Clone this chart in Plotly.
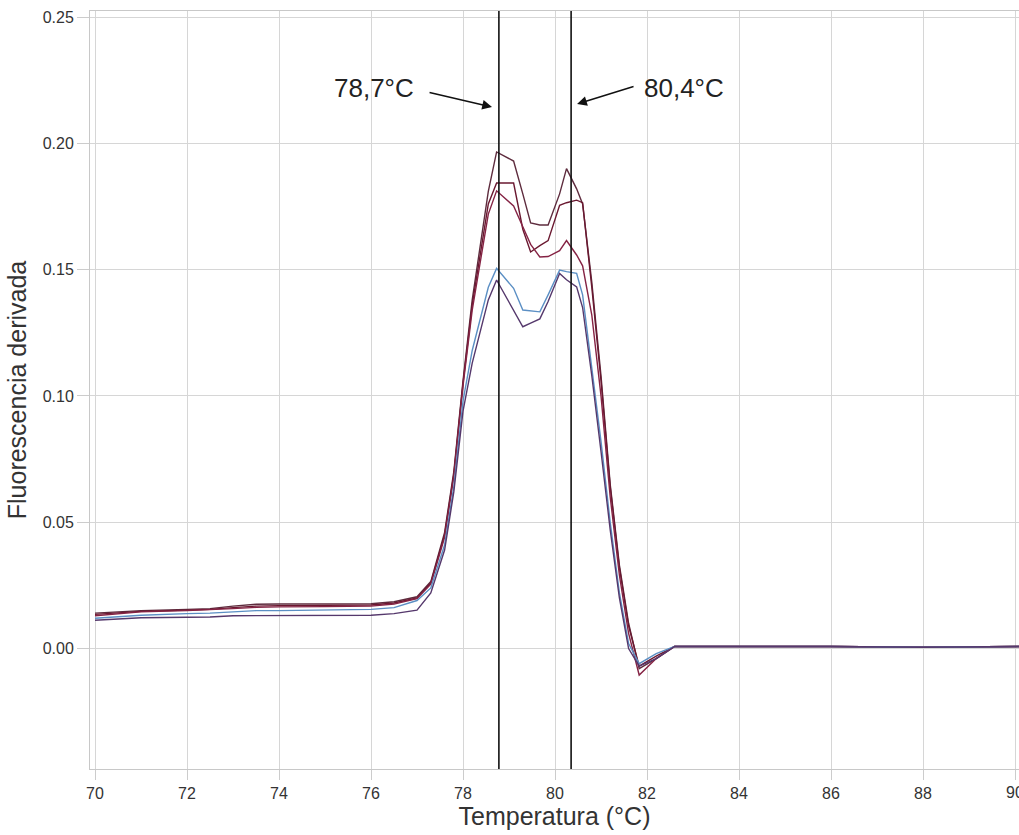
import plotly.graph_objects as go

temperature = [70.0, 71.0, 72.0, 72.5, 73.0, 73.5, 74.0, 75.0, 76.0, 76.5,
               77.0, 77.3, 77.6, 77.8, 78.0, 78.2, 78.4, 78.55, 78.73, 79.1,
               79.3, 79.47, 79.67, 79.85, 80.1, 80.25, 80.47, 80.6, 80.8, 81.0,
               81.2, 81.4, 81.6, 81.83, 82.2, 82.6, 84.0, 86.0, 88.0, 90.1]

sample_a = [0.0140, 0.0150, 0.0155, 0.0158, 0.0168, 0.0175, 0.0176, 0.0176, 0.0177, 0.0185,
            0.0205, 0.0265, 0.0460, 0.0700, 0.1060, 0.1380, 0.1630, 0.1810, 0.1966, 0.1930,
            0.1800, 0.1685, 0.1677, 0.1677, 0.1800, 0.1900, 0.1820, 0.1760, 0.1450, 0.1080,
            0.0650, 0.0330, 0.0100, -0.0080, -0.0040, 0.0008, 0.0008, 0.0008, 0.0005, 0.0008]

sample_b = [0.0135, 0.0147, 0.0152, 0.0155, 0.0162, 0.0168, 0.0170, 0.0171, 0.0172, 0.0180,
            0.0200, 0.0260, 0.0450, 0.0690, 0.1050, 0.1360, 0.1590, 0.1760, 0.1843, 0.1843,
            0.1660, 0.1570, 0.1595, 0.1615, 0.1755, 0.1765, 0.1775, 0.1765, 0.1430, 0.1060,
            0.0640, 0.0320, 0.0090, -0.0070, -0.0030, 0.0008, 0.0008, 0.0008, 0.0005, 0.0008]

sample_c = [0.0130, 0.0145, 0.0150, 0.0153, 0.0158, 0.0163, 0.0165, 0.0166, 0.0168, 0.0176,
            0.0198, 0.0255, 0.0440, 0.0680, 0.1040, 0.1340, 0.1560, 0.1720, 0.1812, 0.1752,
            0.1670, 0.1600, 0.1550, 0.1552, 0.1575, 0.1615, 0.1558, 0.1515, 0.1320, 0.1000,
            0.0600, 0.0290, 0.0060, -0.0105, -0.0040, 0.0008, 0.0008, 0.0008, 0.0005, 0.0008]

sample_d = [0.0120, 0.0132, 0.0138, 0.0140, 0.0145, 0.0150, 0.0150, 0.0152, 0.0155, 0.0162,
            0.0190, 0.0240, 0.0410, 0.0640, 0.0980, 0.1180, 0.1320, 0.1430, 0.1505, 0.1426,
            0.1340, 0.1336, 0.1333, 0.1400, 0.1498, 0.1492, 0.1485, 0.1400, 0.1120, 0.0820,
            0.0500, 0.0220, 0.0020, -0.0060, -0.0020, 0.0008, 0.0008, 0.0008, 0.0005, 0.0008]

sample_e = [0.0112, 0.0122, 0.0124, 0.0125, 0.0130, 0.0130, 0.0130, 0.0131, 0.0132, 0.0138,
            0.0152, 0.0220, 0.0390, 0.0620, 0.0940, 0.1130, 0.1280, 0.1380, 0.1459, 0.1335,
            0.1274, 0.1288, 0.1305, 0.1374, 0.1485, 0.1460, 0.1432, 0.1350, 0.1080, 0.0780,
            0.0470, 0.0200, 0.0000, -0.0070, -0.0040, 0.0008, 0.0008, 0.0008, 0.0005, 0.0008]

series = [sample_a, sample_b, sample_c, sample_d, sample_e]
series_colors = ["#5e2c3e", "#6a1830", "#852344", "#5b8fc4", "#55386c"]

melt_peaks = [78.78, 80.35]
peak_labels = ["78,7°C", "80,4°C"]

y_ticks = [0.0, 0.05, 0.10, 0.15, 0.20, 0.25]
x_ticks = [70, 72, 74, 76, 78, 80, 82, 84, 86, 88, 90]

tick_font = dict(family="Liberation Sans, Arial", size=16, color="#333333")
title_font = dict(family="Liberation Sans, Arial", size=25, color="#333333")
label_font = dict(family="Liberation Sans, Arial", size=26, color="#222222")

fig = go.Figure()
for vals, col in zip(series, series_colors):
    fig.add_trace(go.Scatter(x=temperature, y=vals, mode="lines",
                             line=dict(color=col, width=1.4), showlegend=False))

for xp in melt_peaks:
    fig.add_shape(type="line", xref="x", yref="paper", x0=xp, x1=xp, y0=0, y1=1,
                  line=dict(color="#111111", width=1.6))

# labels with arrows
fig.add_annotation(x=76.07, y=0.2219, text=peak_labels[0], showarrow=False, font=label_font)
fig.add_annotation(x=82.8, y=0.2219, text=peak_labels[1], showarrow=False, font=label_font)
fig.add_annotation(x=78.63, y=0.2144, ax=77.24, ay=0.2203, axref="x", ayref="y",
                   text="", showarrow=True, arrowhead=2, arrowsize=1.3, arrowwidth=1.5,
                   arrowcolor="#111111")
fig.add_annotation(x=80.48, y=0.2156, ax=81.74, ay=0.2227, axref="x", ayref="y",
                   text="", showarrow=True, arrowhead=2, arrowsize=1.3, arrowwidth=1.5,
                   arrowcolor="#111111")

# last x tick label sits at the cut-off right edge
fig.add_annotation(x=90, xref="x", y=0, yref="paper", yanchor="middle", yshift=-23,
                   text="90", showarrow=False, font=tick_font)

fig.update_layout(
    width=1019, height=835,
    margin=dict(l=90, r=0, t=11, b=66),
    paper_bgcolor="white", plot_bgcolor="white",
    font=dict(family="Liberation Sans, Arial", color="#333333"),
)
fig.update_xaxes(range=[69.891, 90.087], tickvals=x_ticks,
                 showgrid=True, gridcolor="#d6d6d6", gridwidth=1,
                 showline=True, linecolor="#c8c8c8", mirror=True,
                 ticks="outside", ticklen=10, tickcolor="#cccccc",
                 tickfont=tick_font, zeroline=False,
                 title=dict(text="Temperatura (°C)", standoff=4, font=title_font))
fig.update_yaxes(range=[-0.0477, 0.2524], tickvals=y_ticks, tickformat=".2f",
                 showgrid=True, gridcolor="#d6d6d6", gridwidth=1,
                 showline=True, linecolor="#c8c8c8", mirror=True,
                 ticks="outside", ticklen=12, tickcolor="#cccccc",
                 tickfont=tick_font, zeroline=False,
                 title=dict(text="Fluorescencia derivada", standoff=8, font=title_font))

fig.write_html("out.html")
